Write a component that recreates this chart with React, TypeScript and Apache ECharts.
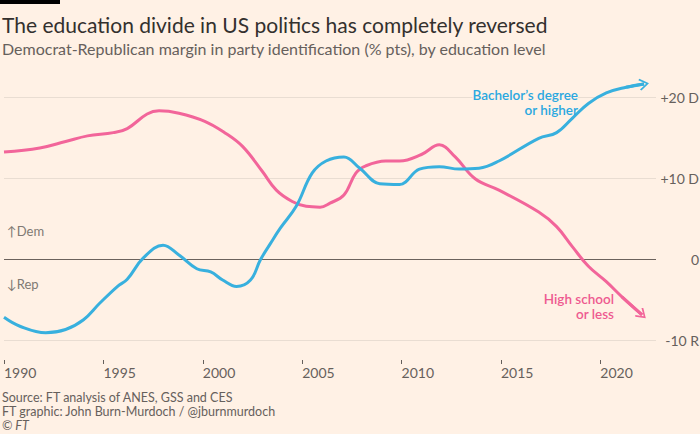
import React, { useEffect, useRef } from "react";
import * as echarts from "echarts";

const bachelorYears = [1990, 1990.8, 1992.1, 1993.1, 1994, 1994.8, 1995.7, 1996.2, 1997, 1998, 1998.8, 1999.7, 2000.4, 2001, 2001.7, 2002.4, 2002.9, 2003.4, 2003.9, 2004.7, 2005.5, 2006.2, 2007.1, 2007.9, 2008.9, 2009.9, 2010.9, 2011.9, 2012.9, 2013.9, 2014.9, 2016.9, 2017.8, 2018.6, 2019.4, 2020.3, 2021.3, 2022.2];
const bachelorValues = [-7.2, -8.3, -9.1, -8.7, -7.5, -5.5, -3.4, -2.5, 0.1, 1.7, 0.5, -1.2, -1.6, -2.6, -3.4, -2.6, -0.1, 1.9, 3.8, 6.5, 10.6, 12.1, 12.6, 11.2, 9.3, 9.2, 11.1, 11.4, 11.1, 11.2, 12.1, 14.9, 15.6, 17.4, 19.2, 20.5, 21.2, 21.6];

const highSchoolYears = [1990, 1991.8, 1993.1, 1994.2, 1995.5, 1996.2, 1997.2, 1997.8, 1998.8, 2000.1, 2001.1, 2002.0, 2003.0, 2003.7, 2004.5, 2005.2, 2005.9, 2006.4, 2007.1, 2007.7, 2008.2, 2009.2, 2009.9, 2011.0, 2011.9, 2012.7, 2013.7, 2014.9, 2016.9, 2017.8, 2018.6, 2019.4, 2020.3, 2021.1, 2022.1];
const highSchoolValues = [13.2, 13.7, 14.5, 15.2, 15.6, 16.1, 17.9, 18.3, 18.0, 17.0, 15.6, 13.9, 10.8, 8.5, 7.1, 6.5, 6.4, 6.9, 7.9, 10.6, 11.5, 12.1, 12.1, 12.9, 14.1, 12.6, 9.9, 8.5, 5.8, 4.0, 1.5, -0.9, -2.8, -4.7, -6.9];

const xTicks = [1990, 1995, 2000, 2005, 2010, 2015, 2020];
const yTicks = [-10, 0, 10, 20];
const yTickLabels = ["-10 R", "0", "+10 D", "+20 D"];

const TITLE = "The education divide in US politics has completely reversed";
const SUBTITLE = "Democrat-Republican margin in party identification (% pts), by education level";
const SOURCE = ["Source: FT analysis of ANES, GSS and CES", "FT graphic: John Burn-Murdoch / @jburnmurdoch", "© FT"];

const PINK = "#F2659A";
const BLUE = "#38B0DE";
const BG = "#FFF1E5";
const GREY = "#66605C";
const FONT = "Lato, 'Noto Sans', sans-serif";

const ARROW = "path://M5,0 L10,7 L8.9,8 L5,2.3 L1.1,8 L0,7 Z";

function zip(xs: number[], ys: number[]) {
  return xs.map((x, i) => [x, ys[i]]);
}

function arrowMark(xs: number[], ys: number[], color: string) {
  const n = xs.length;
  return {
    silent: true,
    symbol: ["none", ARROW],
    symbolSize: [12, 10],
    label: { show: false },
    lineStyle: { color, width: 3, type: "solid" },
    emphasis: { disabled: true },
    data: [[{ coord: [xs[n - 2], ys[n - 2]] }, { coord: [xs[n - 1], ys[n - 1]] }]],
  };
}

export default function App() {
  const ref = useRef<HTMLDivElement>(null);
  useEffect(() => {
    const chart = echarts.init(ref.current!, null, { renderer: "svg" });
    chart.setOption({
      animation: false,
      backgroundColor: BG,
      textStyle: { fontFamily: FONT },
      grid: { left: 4, right: 44, top: 16, bottom: 94, containLabel: false, outerBoundsMode: "none" },
      xAxis: {
        type: "value",
        position: "bottom",
        min: 1990,
        max: 2022.8,
        interval: 5,
        offset: 20,
        axisLine: { show: true, onZero: false, lineStyle: { color: "rgba(0,0,0,0)" } },
        axisTick: { show: true, customValues: xTicks, length: 4, lineStyle: { color: GREY, width: 1 } },
        axisLabel: {
          customValues: xTicks,
          formatter: (v: number) => String(v),
          align: "left",
          margin: 5,
          fontSize: 14,
          color: GREY,
          fontFamily: FONT,
        },
        splitLine: { show: false },
      },
      yAxis: {
        type: "value",
        position: "right",
        min: -10,
        max: 30,
        interval: 10,
        axisLine: { show: false },
        axisTick: { show: false },
        axisLabel: {
          formatter: (v: number) => yTickLabels[yTicks.indexOf(v)] ?? "",
          align: "right",
          margin: 43,
          fontSize: 14,
          color: GREY,
          fontFamily: FONT,
        },
        splitLine: { show: true, lineStyle: { color: ["#E9DDD2", "#6B625C", "#E9DDD2", "#E9DDD2", "rgba(0,0,0,0)"], width: 1 } },
      },
      series: [
        {
          type: "line",
          name: "High school or less",
          data: zip(highSchoolYears, highSchoolValues),
          smooth: 0.4,
          symbol: "none",
          clip: false,
          lineStyle: { color: PINK, width: 3 },
          markLine: arrowMark(highSchoolYears, highSchoolValues, PINK),
        },
        {
          type: "line",
          name: "Bachelor's degree or higher",
          data: zip(bachelorYears, bachelorValues),
          smooth: 0.4,
          symbol: "none",
          clip: false,
          lineStyle: { color: BLUE, width: 3 },
          markLine: arrowMark(bachelorYears, bachelorValues, BLUE),
        },
      ],
      graphic: [
        { type: "rect", left: 0, top: 0, shape: { width: 60, height: 4 }, style: { fill: "#000" } },
        { type: "text", left: 2, top: 14, style: { text: TITLE, fontSize: 21, fill: "#33302E", fontFamily: FONT } },
        { type: "text", left: 2, top: 40, style: { text: SUBTITLE, fontSize: 16, fill: GREY, fontFamily: FONT } },
        { type: "text", left: 7, top: 224, style: { text: "↑Dem", fontSize: 13, fill: "#807973", fontFamily: FONT } },
        { type: "text", left: 7, top: 277, style: { text: "↓Rep", fontSize: 13, fill: "#807973", fontFamily: FONT } },
        {
          type: "text", x: 578, y: 87, z: 10,
          style: { text: "Bachelor’s degree", align: "right", verticalAlign: "top", fontSize: 13.5, lineHeight: 15, fontWeight: 600, fill: "#2AA8E0", fontFamily: FONT, backgroundColor: BG },
        },
        {
          type: "text", x: 578, y: 102, z: 10,
          style: { text: "or higher", align: "right", verticalAlign: "top", fontSize: 13.5, lineHeight: 15, fontWeight: 600, fill: "#2AA8E0", fontFamily: FONT },
        },
        {
          type: "text", x: 614, y: 291, z: 10,
          style: { text: "High school", align: "right", verticalAlign: "top", fontSize: 13.5, lineHeight: 15, fontWeight: 600, fill: "#EE5A90", fontFamily: FONT },
        },
        {
          type: "text", x: 614, y: 306, z: 10,
          style: { text: "or less", align: "right", verticalAlign: "top", fontSize: 13.5, lineHeight: 15, fontWeight: 600, fill: "#EE5A90", fontFamily: FONT },
        },
        {
          type: "text", left: 2, top: 391,
          style: {
            text: `{a|${SOURCE[0]}}\n{a|${SOURCE[1]}}\n{i|${SOURCE[2]}}`,
            rich: {
              a: { fontSize: 12.5, lineHeight: 14, color: GREY, fontFamily: FONT },
              i: { fontSize: 12.5, lineHeight: 14, fontStyle: "italic", color: GREY, fontFamily: FONT },
            },
            fill: GREY,
            fontFamily: FONT,
          },
        },
      ],
    });
    return () => chart.dispose();
  }, []);
  return <div ref={ref} style={{ position: "fixed", left: 0, top: 0, width: 700, height: 434 }} />;
}
